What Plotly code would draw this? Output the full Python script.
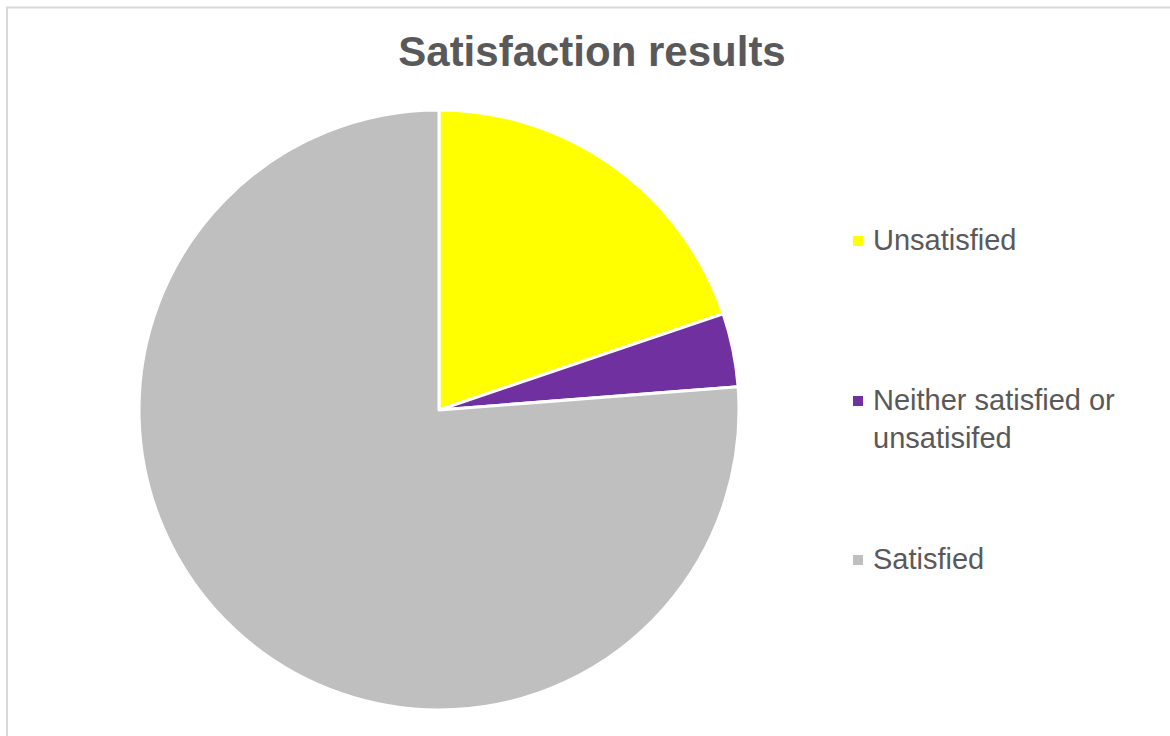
import plotly.graph_objects as go

# Survey answers (number of respondents)
categories = ["Unsatisfied", "Neither satisfied or unsatisifed", "Satisfied"]
values = [20, 4, 77]
colors = ["#FFFF00", "#7030A0", "#BFBFBF"]
legend_labels = ["Unsatisfied", "Neither satisfied or<br>unsatisifed", "Satisfied"]

W, H = 1170, 736
FONT = "Liberation Sans, Arial, sans-serif"
TEXT_COLOR = "#595959"

fig = go.Figure(
    go.Pie(
        labels=categories,
        values=values,
        marker=dict(colors=colors, line=dict(color="white", width=3)),
        sort=False,
        direction="clockwise",
        rotation=0,
        textinfo="none",
        hoverinfo="label+percent",
        showlegend=False,
        domain=dict(x=[139 / W, 739 / W], y=[26 / H, 626 / H]),
    )
)

# Legend drawn as swatches + text, spread down the right side
legend_rows_y = [241, 401, 560]
annotations = []
shapes = []
for lbl, col, yc in zip(legend_labels, colors, legend_rows_y):
    shapes.append(dict(
        type="rect", xref="paper", yref="paper",
        x0=853 / W, x1=863 / W,
        y0=1 - (yc + 5) / H, y1=1 - (yc - 5) / H,
        fillcolor=col, line=dict(width=0),
    ))
    annotations.append(dict(
        text=lbl, xref="paper", yref="paper",
        x=871 / W, y=1 - (yc - 19) / H,
        xanchor="left", yanchor="top", align="left",
        showarrow=False,
        font=dict(family=FONT, size=29, color=TEXT_COLOR),
    ))

# Chart-area frame
shapes.append(dict(
    type="rect", xref="paper", yref="paper",
    x0=7 / W, x1=1180 / W, y0=-0.02, y1=1 - 7.5 / H,
    line=dict(color="#D9D9D9", width=2), fillcolor="rgba(0,0,0,0)",
    layer="below",
))

fig.update_layout(
    width=W, height=H,
    margin=dict(l=0, r=0, t=0, b=0),
    paper_bgcolor="white",
    plot_bgcolor="white",
    title=dict(
        text="<b>Satisfaction results</b>",
        x=592 / W, xanchor="center",
        y=1 - 51 / H, yanchor="middle",
        font=dict(family=FONT, size=42, color=TEXT_COLOR),
    ),
    annotations=annotations,
    shapes=shapes,
)

fig.write_html("out.html")
